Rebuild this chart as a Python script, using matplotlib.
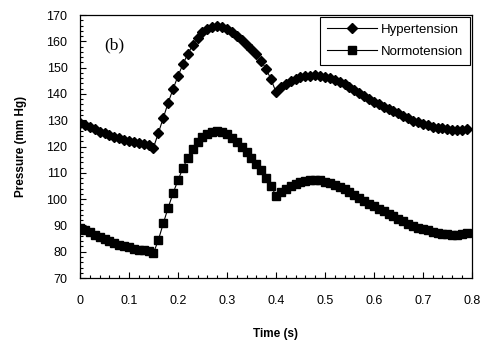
import matplotlib
matplotlib.use("Agg")
import matplotlib.pyplot as plt
from matplotlib.ticker import MultipleLocator

plt.rcParams['font.family'] = ['Liberation Sans', 'DejaVu Sans']

# time axis, one sample every 0.01 s
time_s = [round(i * 0.01, 2) for i in range(80)]

hypertension = [
    129.0, 128.2, 127.3, 126.5, 125.7, 125.0, 124.3, 123.7, 123.1, 122.6,
    122.1, 121.6, 121.2, 120.8, 120.4, 119.6, 125.2, 130.9, 136.7, 141.9,
    146.8, 151.3, 155.2, 158.6, 161.4, 163.4, 164.8, 165.6, 166.0, 165.6,
    164.6, 163.4, 162.0, 160.5, 158.8, 157.0, 155.0, 152.5, 149.5, 145.5,
    140.8, 142.6, 143.9, 144.9, 145.7, 146.3, 146.7, 147.0, 147.1, 147.0,
    146.6, 146.1, 145.4, 144.6, 143.7, 142.7, 141.6, 140.4, 139.2, 138.1,
    137.1, 136.1, 135.2, 134.4, 133.6, 132.6, 131.6, 130.7, 129.9, 129.2,
    128.6, 128.1, 127.6, 127.2, 126.9, 126.6, 126.4, 126.3, 126.4, 126.6,
]

normotension = [
    89.2, 88.3, 87.4, 86.5, 85.6, 84.8, 84.0, 83.3, 82.7, 82.2,
    81.7, 81.2, 80.8, 80.5, 80.2, 79.5, 84.5, 90.8, 96.8, 102.3,
    107.2, 111.8, 115.7, 118.9, 121.6, 123.5, 124.9, 125.7, 126.0, 125.6,
    124.6, 123.3, 121.8, 120.0, 118.0, 115.8, 113.5, 111.0, 108.0, 105.0,
    101.3, 102.8, 104.0, 105.0, 105.8, 106.4, 106.8, 107.1, 107.2, 107.1,
    106.7, 106.1, 105.4, 104.6, 103.7, 102.7, 101.6, 100.4, 99.3, 98.3,
    97.3, 96.4, 95.5, 94.5, 93.6, 92.6, 91.6, 90.7, 89.9, 89.2,
    88.6, 88.1, 87.6, 87.2, 86.9, 86.6, 86.4, 86.3, 86.6, 87.2,
]

fig = plt.figure(figsize=(4.91, 3.42), dpi=100)
ax = fig.add_axes([0.163, 0.187, 0.798, 0.769])

ax.plot(time_s, hypertension, color='black', lw=0.8, marker='D',
        markersize=4.6, label='Hypertension')
ax.plot(time_s, normotension, color='black', lw=0.8, marker='s',
        markersize=5.3, label='Normotension')

ax.set_xlim(0, 0.8)
ax.set_ylim(70, 170)
ax.xaxis.set_major_locator(MultipleLocator(0.1))
ax.xaxis.set_minor_locator(MultipleLocator(0.02))
ax.yaxis.set_major_locator(MultipleLocator(10))
ax.yaxis.set_minor_locator(MultipleLocator(2))
ax.xaxis.set_major_formatter(plt.FuncFormatter(lambda v, p: '0' if v == 0 else ('%.1f' % v)))
ax.tick_params(which='both', direction='in', top=False, right=False,
               labelsize=9, width=0.8)
ax.tick_params(axis='x', which='major', length=4, pad=12)
ax.tick_params(axis='y', which='major', length=4, pad=9)
ax.tick_params(which='minor', length=2.5)
for s in ax.spines.values():
    s.set_linewidth(0.9)

ax.set_xlabel('Time (s)', fontsize=8.5, fontweight='bold', labelpad=15)
ax.set_ylabel('Pressure (mm Hg)', fontsize=8.5, fontweight='bold', labelpad=14)

ax.text(0.05, 157, '(b)', fontsize=12.5, family=['Liberation Serif'])

leg = ax.legend(loc='upper right', fontsize=9.5, handlelength=3.8,
                fancybox=False, framealpha=1, edgecolor='black',
                borderpad=0.5, labelspacing=0.75, handletextpad=0.3,
                borderaxespad=0.15)
leg.get_frame().set_linewidth(0.8)

fig.savefig('out.png', dpi=100)
